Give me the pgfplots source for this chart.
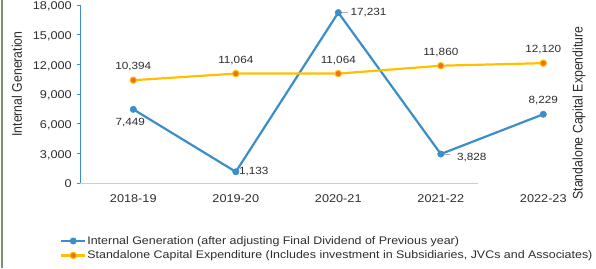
\documentclass[border=0pt]{standalone}
\usepackage{pgfplots}
\pgfplotsset{compat=1.18}
\usepackage{pgfplotstable}
\usepackage{fontspec}
\setmainfont[FakeStretch=1.13]{Liberation Sans}
\newfontfamily\plainf{Liberation Sans}
\definecolor{ibl}{RGB}{59,142,200}
\definecolor{cor}{RGB}{255,192,0}
\definecolor{cmk}{RGB}{242,110,30}
\definecolor{txt}{RGB}{45,45,45}
\definecolor{base}{RGB}{205,205,205}
\definecolor{frame}{RGB}{125,145,105}
\pgfplotstableread{
x y lab
0 7449 {7,449}
1 1133 {1,133}
2 17231 {17,231}
3 2930 {3,828}
4 6950 {8,229}
}\blueT
\pgfplotstableread{
x y lab
0 10394 {10,394}
1 11064 {11,064}
2 11064 {11,064}
3 11860 {11,860}
4 12120 {12,120}
}\orT
\newcommand\lfont{\fontsize{10.4}{12}\selectfont}
\newcommand\gfont{\fontsize{11}{13}\selectfont}
\pgfplotsset{lbl/.style={draw=none, mark=none, forget plot, point meta=explicit symbolic, nodes near coords,
  nodes near coords style={inner sep=0pt, text=txt, font=\lfont, #1}}}
\begin{document}
\begin{tikzpicture}
\useasboundingbox (0,0) rectangle (596pt,268pt);
\draw[frame, line width=2pt] (2pt,0) -- (2pt,268pt);
\begin{axis}[
  at={(80pt,85pt)}, anchor=south west,
  scale only axis, width=504.3pt, height=178pt,
  xmin=-0.52, xmax=4.4, ymin=0, ymax=18000,
  axis lines*=left,
  x axis line style={draw=none},
  y axis line style={ibl, line width=0.8pt},
  xtick={0,1,2,3,4},
  xticklabels={2018-19,2019-20,2020-21,2021-22,2022-23},
  major x tick style={draw=none},
  ytick={0,3000,...,18000},
  tick align=outside,
  major tick length=3pt,
  major y tick style={ibl, line width=0.8pt},
  /pgf/number format/assume math mode=true,
  /pgf/number format/1000 sep={,},
  scaled y ticks=false,
  tick label style={font=\fontsize{11.25}{13}\selectfont, text=txt},
  xticklabel style={inner sep=0pt, yshift=-8pt},
  yticklabel style={inner sep=0pt, text depth=0pt, xshift=-5pt, yshift=-1pt},
  clip=false,
  legend style={at={(axis description cs:-0.0397,-0.298)}, anchor=north west,
    draw=none, fill=none, inner sep=0pt, row sep=5pt, column sep=1pt,
    nodes={inner sep=0pt, text=txt, font=\gfont}},
  legend cell align=left,
  legend image code/.code={\draw[mark repeat=2,mark phase=2,#1] plot coordinates {(0pt,0pt) (12pt,0pt) (24pt,0pt)};},
]
\draw[base, line width=1pt] (axis cs:-0.52,0) -- (axis cs:3.36,0);
\addplot[ibl, line width=2.2pt, mark=*, mark size=3.2pt, mark options={fill=ibl, draw=ibl, line width=0.5pt}]
  table[x=x, y=y] {\blueT};
\addlegendentry{Internal Generation (after adjusting Final Dividend of Previous year)}
\addplot[cor, line width=2.2pt, mark=*, mark size=3.2pt, mark options={fill=cmk, draw=cor, line width=1pt}]
  table[x=x, y=y] {\orT};
\addlegendentry{Standalone Capital Expenditure (Includes investment in Subsidiaries, JVCs and Associates)}
% labels
\addplot[lbl={anchor=south, yshift=9pt}] table[x=x, y=y, meta=lab] {\orT};
\addplot[lbl={anchor=north, xshift=-3pt, yshift=-9pt}] table[x=x, y=y, meta=lab, skip coords between index={1}{5}] {\blueT};
\addplot[lbl={anchor=west, xshift=3pt}] table[x=x, y=y, meta=lab, skip coords between index={0}{1}, skip coords between index={2}{5}] {\blueT};
\addplot[lbl={anchor=west, xshift=12pt}] table[x=x, y=y, meta=lab, skip coords between index={0}{2}, skip coords between index={3}{5}] {\blueT};
\addplot[lbl={anchor=west, xshift=16pt, yshift=-4pt}] table[x=x, y=y, meta=lab, skip coords between index={0}{3}, skip coords between index={4}{5}] {\blueT};
\addplot[lbl={anchor=south, yshift=9.5pt}] table[x=x, y=y, meta=lab, skip coords between index={0}{4}] {\blueT};
% leader lines for two labels
\addplot[gray!60, line width=0.6pt, forget plot, mark=none] coordinates {(2.03,17231) (2.095,17231)};
\addplot[gray!60, line width=0.6pt, forget plot, mark=none] coordinates {(3.03,2930) (3.09,2930)};
\end{axis}
\node[rotate=90, text=txt, inner sep=0pt] at (17pt,184pt) {\scalebox{1}[1.13]{\plainf\fontsize{12.3}{14}\selectfont Internal Generation}};
\node[rotate=90, text=txt, inner sep=0pt] at (579pt,155pt) {\scalebox{1}[1.13]{\plainf\fontsize{12.3}{14}\selectfont Standalone Capital Expenditure}};
\end{tikzpicture}
\end{document}
